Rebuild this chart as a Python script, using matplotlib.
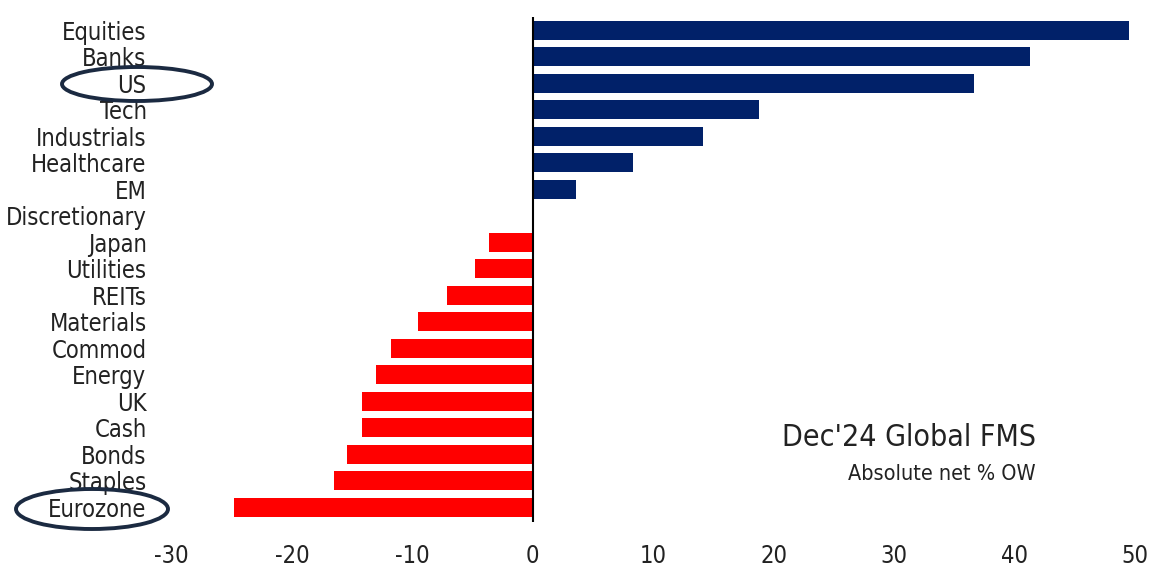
import matplotlib.pyplot as plt
from matplotlib.patches import Ellipse
from matplotlib import font_manager

categories = ['Equities', 'Banks', 'US', 'Tech', 'Industrials', 'Healthcare', 'EM',
              'Discretionary', 'Japan', 'Utilities', 'REITs', 'Materials', 'Commod',
              'Energy', 'UK', 'Cash', 'Bonds', 'Staples', 'Eurozone']
values = [49.5, 41.3, 36.6, 18.8, 14.1, 8.3, 3.6,
          0.0, -3.6, -4.8, -7.1, -9.5, -11.8,
          -13.0, -14.2, -14.2, -15.4, -16.5, -24.8]
xticks = [-30, -20, -10, 0, 10, 20, 30, 40, 50]
circled = ['US', 'Eurozone']

navy = '#012169'
red = '#ff0000'
txt = '#222222'

cond = [f for f in font_manager.fontManager.ttflist
        if f.name == 'DejaVu Sans' and f.stretch == 'condensed']
plt.rcParams['font.family'] = ['DejaVu Sans']
if cond:
    plt.rcParams['font.stretch'] = 'condensed'
    lab_fs, tick_fs, t1, t2 = 17, 17, 21.7, 15.5
else:
    lab_fs, tick_fs, t1, t2 = 14.5, 15, 19, 14

fig = plt.figure(figsize=(11.54, 5.72), dpi=100)
ax = fig.add_axes([171.5 / 1154, 1 - 522 / 572, (1135 - 171.5) / 1154, 505 / 572])

ypos = list(range(len(categories)))
colors = [navy if v > 0 else red for v in values]
ax.barh(ypos, values, height=0.72, color=colors)
ax.axvline(0, color='black', lw=1.5)

ax.set_xlim(-30, 50)
ax.set_ylim(len(categories) - 0.45, -0.5)
ax.set_xticks(xticks)
ax.set_xticklabels([str(t) for t in xticks], fontsize=tick_fs, color=txt)
ax.set_yticks(ypos)
ax.set_yticklabels(categories, fontsize=lab_fs, color=txt)
ax.tick_params(axis='both', length=0)
ax.tick_params(axis='x', pad=16)
ax.tick_params(axis='y', pad=18)
for s in ax.spines.values():
    s.set_visible(False)

ax.text(0.897, 0.168, "Dec'24 Global FMS", transform=ax.transAxes, ha='right',
        va='center', fontsize=t1, color=txt)
ax.text(0.897, 0.095, 'Absolute net % OW', transform=ax.transAxes, ha='right',
        va='center', fontsize=t2, color=txt)

# hand-drawn style rings round the highlighted labels
ring_pos = {'US': (137, 84, 150, 34), 'Eurozone': (92, 509, 152, 40)}
for name in circled:
    cx, cy, w, h = ring_pos[name]
    e = Ellipse((cx / 1154, 1 - cy / 572), w / 1154, h / 572, transform=fig.transFigure,
                fill=False, edgecolor='#1b2a41', lw=2.8)
    fig.add_artist(e)

fig.savefig('out.png', dpi=100)
